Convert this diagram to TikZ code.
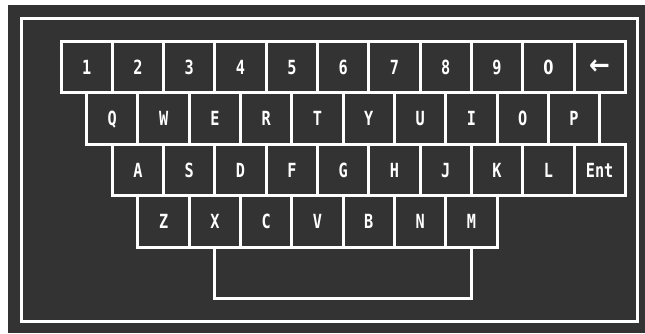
\documentclass[tikz,border=0pt]{standalone}
\usepackage{fontspec}
\newfontfamily\keyfont[FakeStretch=0.78]{DejaVu Sans Mono}
\newfontfamily\plainkeyfont[FakeStretch=0.75]{DejaVu Sans}
\definecolor{kbdark}{HTML}{333333}
\begin{document}
\begin{tikzpicture}[x=1pt,y=-1pt,
  keybox/.style={draw=white, fill=kbdark, line width=3pt, rectangle, inner sep=0pt,
    minimum width=51.3pt, minimum height=51.4pt, text=white,
    font=\keyfont\bfseries\fontsize{19.5}{22}\selectfont, text height=14pt, text depth=0pt},
  framebox/.style={draw=white, line width=3pt}]
\useasboundingbox (0,0) rectangle (645,333);
\fill[white] (0,0) rectangle (645,333);
\fill[kbdark] (8,5) rectangle (645,333);
\draw[framebox] (21.5,18.5) rectangle (637.5,321.5);
\def\ux{51.3}\def\uy{51.4}\def\xo{61}\def\yo{41.5}
% row 1
\foreach \t [count=\i from 0] in {1,2,3,4,5,6,7,8,9,{\plainkeyfont 0},{\plainkeyfont\raisebox{0pt}{\scalebox{1.7}[1.4]{←}}}}
  \node[keybox] (r1k\i) at ({\xo+(\i+0.5)*\ux},{\yo+0.5*\uy}) {\t};
% row 2
\foreach \t [count=\i from 0] in {Q,W,E,R,T,Y,U,I,O,P}
  \node[keybox] (r2k\i) at ({\xo+(\i+1.0)*\ux},{\yo+1.5*\uy}) {\t};
% row 3
\foreach \t [count=\i from 0] in {A,S,D,F,G,H,J,K,L,Ent}
  \node[keybox] (r3k\i) at ({\xo+(\i+1.5)*\ux},{\yo+2.5*\uy}) {\t};
% row 4
\foreach \t [count=\i from 0] in {Z,X,C,V,B,N,M}
  \node[keybox] (r4k\i) at ({\xo+(\i+2.0)*\ux},{\yo+3.5*\uy}) {\t};
% space bar
\node[keybox, minimum width=5*51.3pt] (space) at ({\xo+5.5*\ux},{\yo+4.5*\uy}) {};
\end{tikzpicture}
\end{document}
